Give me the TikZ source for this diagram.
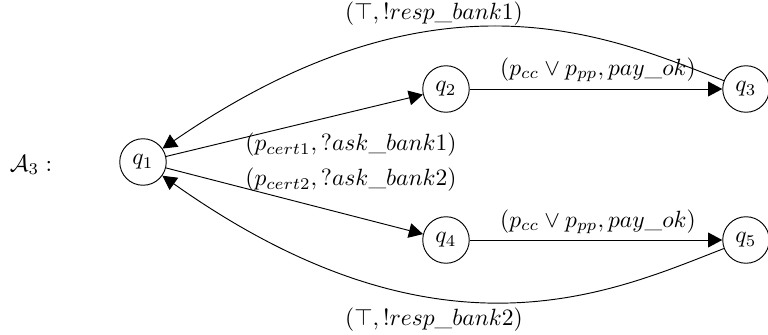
\documentclass[tikz,border=0pt]{standalone}
\usetikzlibrary{arrows.meta}
\begin{document}
\begin{tikzpicture}[x=0.4255pt,y=-0.4255pt,
  state/.style={draw,circle,minimum size=19.8pt,inner sep=0pt},
  trans/.style={-{Triangle[length=6pt,width=6.3pt]}},
  lbl/.style={inner sep=0pt}]
\useasboundingbox (0,0) rectangle (768,334);
\node[lbl] (name) at (31,165) {$\mathcal{A}_3 :$};
\node[state] (q1) at (143,162) {$q_1$};
\node[state] (q2) at (446,89) {$q_2$};
\node[state] (q3) at (746,89) {$q_3$};
\node[state] (q4) at (446,240) {$q_4$};
\node[state] (q5) at (746,240) {$q_5$};
\draw[trans] (q1) -- (q2);
\draw[trans] (q1) -- (q4);
\draw[trans] (q2) -- (q3);
\draw[trans] (q4) -- (q5);
\draw[trans] (q3) .. controls (614,39) and (441,-43) .. (q1);
\draw[trans] (q5) .. controls (614,291) and (441,373) .. (q1);
\node[lbl] (l12) at (351,145) {$(p_{cert1}, ?ask\_bank1)$};
\node[lbl] (l14) at (351,180) {$(p_{cert2}, ?ask\_bank2)$};
\node[lbl] (l23) at (598,70) {$(p_{cc} \vee p_{pp}, pay\_ok)$};
\node[lbl] (l45) at (598,222) {$(p_{cc} \vee p_{pp}, pay\_ok)$};
\node[lbl] (l31) at (434,14) {$(\top, !resp\_bank1)$};
\node[lbl] (l51) at (434,320) {$(\top, !resp\_bank2)$};
\end{tikzpicture}
\end{document}
